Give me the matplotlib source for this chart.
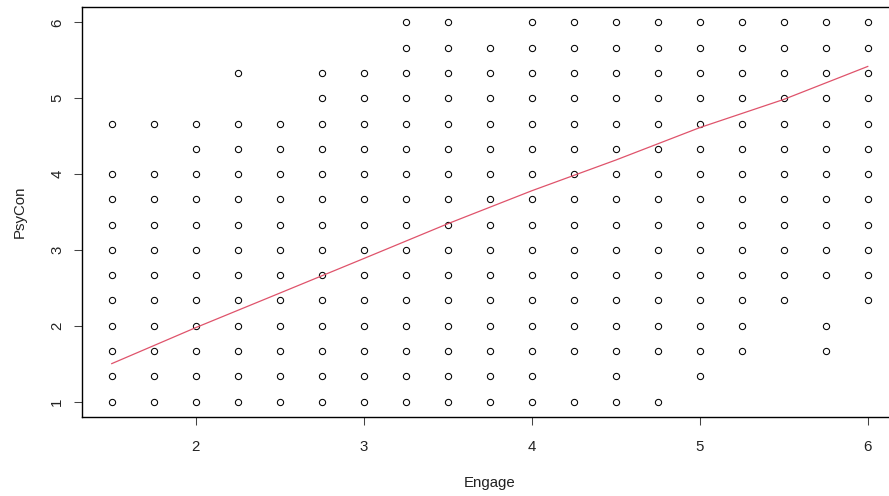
import matplotlib
matplotlib.use("Agg")
import matplotlib.pyplot as plt

plt.rcParams['font.family'] = ['Liberation Sans', 'DejaVu Sans']

# Engage values (x) and the PsyCon levels (in thirds: 3 -> 1.0, 18 -> 6.0) present at each
engage = [1.5, 1.75, 2.0, 2.25, 2.5, 2.75, 3.0, 3.25, 3.5, 3.75,
          4.0, 4.25, 4.5, 4.75, 5.0, 5.25, 5.5, 5.75, 6.0]
psycon_thirds = [
    [3, 4, 5, 6, 7, 8, 9, 10, 11, 12, 14],
    [3, 4, 5, 6, 7, 8, 9, 10, 11, 12, 14],
    [3, 4, 5, 6, 7, 8, 9, 10, 11, 12, 13, 14],
    [3, 4, 5, 6, 7, 8, 9, 10, 11, 12, 13, 14, 16],
    [3, 4, 5, 6, 7, 8, 9, 10, 11, 12, 13, 14],
    [3, 4, 5, 6, 7, 8, 9, 10, 11, 12, 13, 14, 15, 16],
    [3, 4, 5, 6, 7, 8, 9, 10, 11, 12, 13, 14, 15, 16],
    [3, 4, 5, 6, 7, 8, 9, 10, 11, 12, 13, 14, 15, 16, 17, 18],
    [3, 4, 5, 6, 7, 8, 9, 10, 11, 12, 13, 14, 15, 16, 17, 18],
    [3, 4, 5, 6, 7, 8, 9, 10, 11, 12, 13, 14, 15, 16, 17],
    [3, 4, 5, 6, 7, 8, 9, 10, 11, 12, 13, 14, 15, 16, 17, 18],
    [3, 5, 6, 7, 8, 9, 10, 11, 12, 13, 14, 15, 16, 17, 18],
    [3, 4, 5, 6, 7, 8, 9, 10, 11, 12, 13, 14, 15, 16, 17, 18],
    [3, 5, 6, 7, 8, 9, 10, 11, 12, 13, 14, 15, 16, 17, 18],
    [4, 5, 6, 7, 8, 9, 10, 11, 12, 13, 14, 15, 16, 17, 18],
    [5, 6, 7, 8, 9, 10, 11, 12, 13, 14, 15, 16, 17, 18],
    [7, 8, 9, 10, 11, 12, 13, 14, 15, 16, 17, 18],
    [5, 6, 8, 9, 10, 11, 12, 13, 14, 15, 16, 17, 18],
    [7, 8, 9, 10, 11, 12, 13, 14, 15, 16, 17, 18],
]

# fitted line
fit_x = [1.5, 2.0, 2.5, 3.0, 3.5, 4.0, 4.5, 5.0, 5.5, 6.0]
fit_y = [1.50, 1.975, 2.43, 2.886, 3.345, 3.78, 4.185, 4.613, 4.985, 5.42]

x_ticks = [2, 3, 4, 5, 6]
y_ticks = [1, 2, 3, 4, 5, 6]

xs, ys = [], []
for e, levels in zip(engage, psycon_thirds):
    for t in levels:
        xs.append(e)
        ys.append(t / 3.0)

W, H = 889, 496
fig = plt.figure(figsize=(W / 100, H / 100), dpi=100)
left_px, right_px, top_px, bottom_px = 81.5, 898.0, 7.3, 416.7
ax = fig.add_axes([left_px / W, 1 - bottom_px / H,
                   (right_px - left_px) / W, (bottom_px - top_px) / H])

ax.plot(xs, ys, linestyle='none', marker='o', markersize=4.5,
        markerfacecolor='none', markeredgecolor='black', markeredgewidth=0.75)
ax.plot(fit_x, fit_y, color='#DF536B', linewidth=0.9)

ax.set_xlim(1.32, 6.18)
ax.set_ylim(0.8, 6.2)
ax.set_xticks(x_ticks)
ax.set_yticks(y_ticks)
ax.set_xticklabels([str(v) for v in x_ticks])
ax.set_yticklabels([str(v) for v in y_ticks], rotation=90, va='center')
ax.tick_params(axis='both', length=6, width=0.75, color='#444444',
               labelsize=10.8, labelcolor='#222222')
ax.tick_params(axis='x', pad=10.5)
ax.tick_params(axis='y', pad=6.5)
for s in ax.spines.values():
    s.set_linewidth(1.0)
    s.set_color('black')

ax.set_xlabel('Engage', fontsize=10.8, color='#222222', labelpad=16)
ax.set_ylabel('PsyCon', fontsize=10.8, color='#222222', labelpad=16.5)

fig.savefig('out.png', dpi=100)
